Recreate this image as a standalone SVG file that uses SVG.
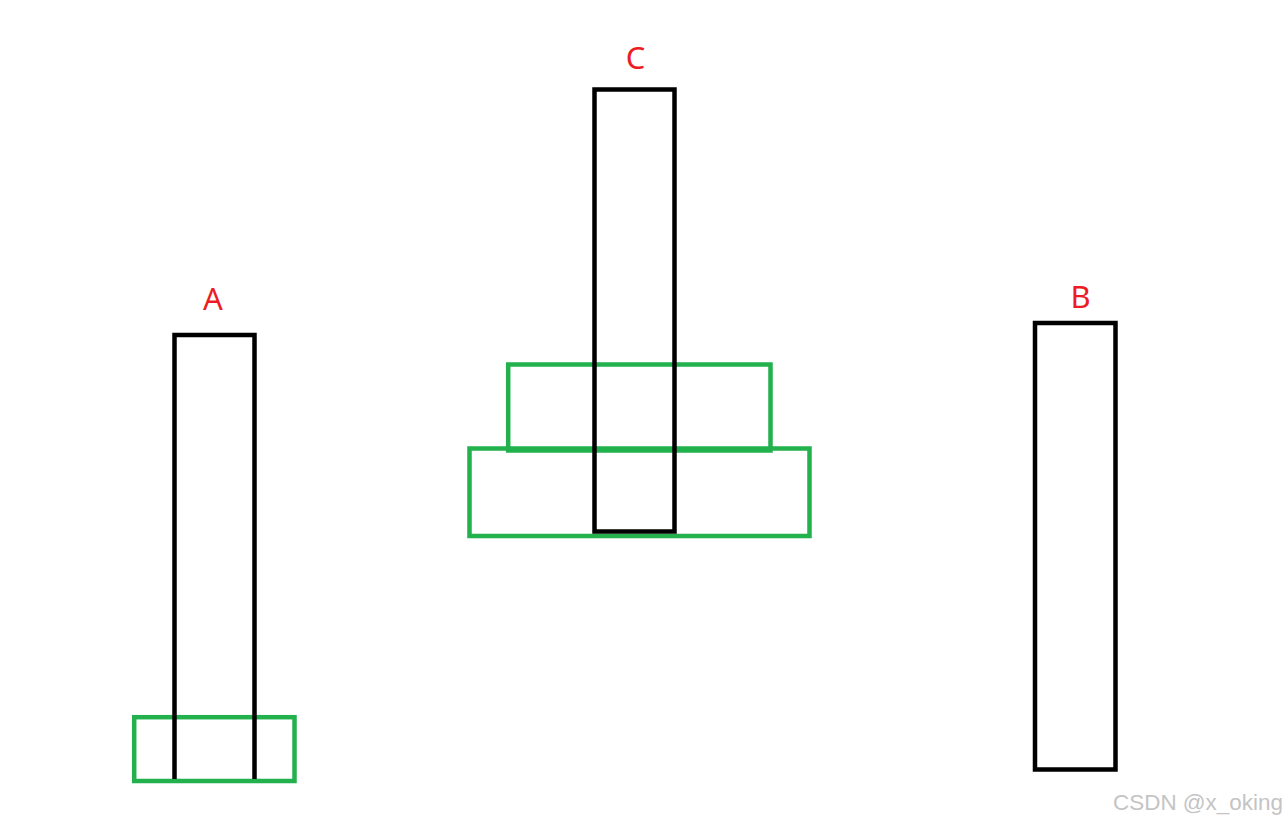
<svg xmlns="http://www.w3.org/2000/svg" width="1287" height="824" viewBox="0 0 1287 824">
  <style>
    .pillar { fill: none; stroke: #000; stroke-width: 4.5; }
    .disk { fill: none; stroke: #22b14c; stroke-width: 4.5; }
    .label { fill: #ed1c24; font-family: "Noto Sans", "Open Sans", sans-serif; font-size: 31px; text-anchor: middle; }
    .wm { fill: #c4c4c4; font-family: "Liberation Sans", Arial, sans-serif; font-size: 22px; }
  </style>
  <rect width="1287" height="824" fill="#fff"/>
  <g id="pillar-A">
    <rect class="disk" x="134.2" y="717.2" width="160.3" height="63.8"/>
    <path class="pillar" d="M174.5,779 V334.9 H254.5 V779"/>
    <text class="label" x="213" y="309.5">A</text>
  </g>
  <g id="pillar-C">
    <rect class="disk" x="508.2" y="364.5" width="262.3" height="86"/>
    <rect class="disk" x="469.5" y="448.5" width="340" height="87.5"/>
    <rect class="pillar" x="594.5" y="89.5" width="80" height="442"/>
    <text class="label" x="635.5" y="68.5">C</text>
  </g>
  <g id="pillar-B">
    <rect class="pillar" x="1035" y="323" width="80.5" height="446.5"/>
    <text class="label" x="1080.5" y="307.5">B</text>
  </g>
  <g id="connectors"/>
  <text class="wm" x="1113" y="810" textLength="170" lengthAdjust="spacingAndGlyphs">CSDN @x_oking</text>
</svg>
